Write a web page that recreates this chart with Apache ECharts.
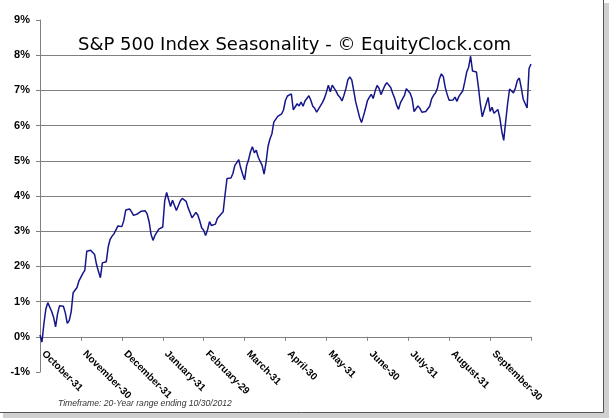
<!DOCTYPE html>
<html>
<head>
<meta charset="utf-8">
<script src="https://cdn.jsdelivr.net/npm/echarts@6/dist/echarts.min.js"></script>
<style>
html,body{margin:0;padding:0;background:#fff;}
#chart{width:609px;height:418px;}
</style>
</head>
<body>
<div id="chart"></div>
<script>
// Month-end tick labels (one every 21 trading days)
const monthLabels = ['October-31','November-30','December-31','January-31','February-29','March-31',
  'April-30','May-31','June-30','July-31','August-31','September-30'];

// Seasonal cumulative return (%) per trading day, Oct 30 -> Oct 30
const seasonality = [
  0.05,-0.15,0.37,0.79,0.97,0.93,0.72,0.55,0.28,0.65,0.88,0.91,0.87,0.68,0.38,0.46,0.71,1.25,1.28,1.40,
  1.59,1.63,1.80,1.89,2.43,2.48,2.46,2.44,2.34,2.06,1.86,1.68,2.10,2.10,2.13,2.55,2.77,2.86,2.93,3.04,
  3.15,3.20,3.13,3.30,3.60,3.60,3.63,3.55,3.45,3.41,3.49,3.46,3.57,3.52,3.58,3.49,3.27,2.91,2.74,2.88,
  2.93,3.06,3.04,3.12,3.86,4.10,4.08,3.70,3.88,3.74,3.59,3.61,3.86,3.93,3.98,3.85,3.67,3.53,3.38,3.35,
  3.53,3.46,3.29,3.09,3.03,2.88,3.04,3.27,3.16,3.12,3.20,3.36,3.37,3.49,3.55,4.05,4.50,4.52,4.51,4.64,
  4.87,4.95,5.03,4.80,4.62,4.46,4.85,5.02,5.25,5.40,5.23,5.30,5.10,5.06,4.87,4.62,4.95,5.40,5.62,5.76,
  6.10,6.08,6.26,6.28,6.33,6.45,6.72,6.84,6.89,6.90,6.45,6.49,6.62,6.56,6.67,6.55,6.70,6.73,6.85,6.72,
  6.55,6.49,6.38,6.36,6.57,6.66,6.78,6.95,7.15,6.96,7.15,7.15,6.97,6.86,6.80,6.70,6.86,7.05,7.30,7.38,
  7.30,7.00,6.68,6.46,6.24,6.09,6.27,6.47,6.70,6.80,6.89,6.77,6.98,7.14,7.06,6.88,6.93,7.14,7.22,7.18,
  7.08,6.92,6.78,6.59,6.46,6.65,6.75,6.85,7.05,7.01,6.92,6.76,6.40,6.36,6.56,6.49,6.38,6.33,6.40,6.40,
  6.55,6.76,6.86,6.93,7.07,7.33,7.47,7.39,7.08,6.88,6.72,6.70,6.73,6.81,6.69,6.83,6.85,6.99,7.24,7.52,
  7.66,7.97,7.55,7.50,7.52,7.10,6.62,6.25,6.30,6.62,6.80,6.40,6.52,6.35,6.40,6.46,6.22,5.84,5.58,6.12,
  6.62,7.04,7.00,6.93,7.07,7.28,7.35,7.08,6.75,6.77,6.50,7.62,7.75
];

const daysPerLabel = 21;
const yMin = -1, yMax = 9;
const dayIndex = seasonality.map((_, i) => String(i));

const gridTop = 20, gridBottom = 46, chartH = 418;
const unitPx = (chartH - gridTop - gridBottom) / (yMax - yMin);

const chart = echarts.init(document.getElementById('chart'), null, {renderer: 'canvas'});
chart.setOption({
  backgroundColor: '#ffffff',
  animation: false,
  title: {
    text: 'S&P 500 Index Seasonality - \u00A9 EquityClock.com',
    left: 73,
    top: 31,
    textStyle: {fontFamily: 'DejaVu Sans', fontSize: 18, fontWeight: 'normal', color: '#000'}
  },
  grid: {left: 40, right: 78, top: gridTop, bottom: gridBottom, containLabel: false, outerBoundsMode: 'none'},
  xAxis: {
    type: 'category',
    data: dayIndex,
    boundaryGap: false,
    offset: -unitPx * (0 - yMin),
    axisLine: {onZero: false, lineStyle: {color: '#808080', width: 1}},
    axisTick: {show: true, interval: daysPerLabel - 1, length: 4, lineStyle: {color: '#808080'}},
    axisLabel: {
      interval: daysPerLabel - 1,
      rotate: -45,
      margin: 12,
      padding: [0, 0, 0, 5],
      fontFamily: 'Liberation Sans',
      fontWeight: 'bold',
      fontSize: 10,
      color: '#000',
      formatter: (v, idx) => monthLabels[idx / daysPerLabel] || ''
    },
    splitLine: {show: false}
  },
  yAxis: {
    type: 'value',
    min: yMin,
    max: yMax,
    interval: 1,
    axisLine: {show: true, lineStyle: {color: '#808080', width: 1}},
    axisTick: {show: true, length: 4, lineStyle: {color: '#808080'}},
    axisLabel: {
      formatter: '{value}%',
      margin: 10,
      fontFamily: 'Liberation Sans',
      fontWeight: 'bold',
      fontSize: 11,
      color: '#000'
    },
    splitLine: {show: true, showMinLine: false, showMaxLine: false, lineStyle: {color: '#808080', width: 1}}
  },
  series: [{
    type: 'line',
    data: seasonality,
    showSymbol: false,
    symbol: 'none',
    lineStyle: {color: '#16168a', width: 1.5},
    z: 5
  }],
  graphic: [
    {type: 'text', left: 58, top: 399,
      style: {text: 'Timeframe: 20-Year range ending 10/30/2012', fontFamily: 'Liberation Sans',
        fontStyle: 'italic', fontSize: 8.6, fill: '#333'}},
    {type: 'rect', shape: {x: 604, y: 3, width: 5, height: 415}, style: {fill: '#d0d0d0'}},
    {type: 'rect', shape: {x: 3, y: 413, width: 606, height: 5}, style: {fill: '#d0d0d0'}},
    {type: 'line', shape: {x1: 603.5, y1: 0, x2: 603.5, y2: 412.5}, style: {stroke: '#555', lineWidth: 1}},
    {type: 'line', shape: {x1: 0, y1: 412.5, x2: 603.5, y2: 412.5}, style: {stroke: '#555', lineWidth: 1}}
  ]
});
</script>
</body>
</html>
